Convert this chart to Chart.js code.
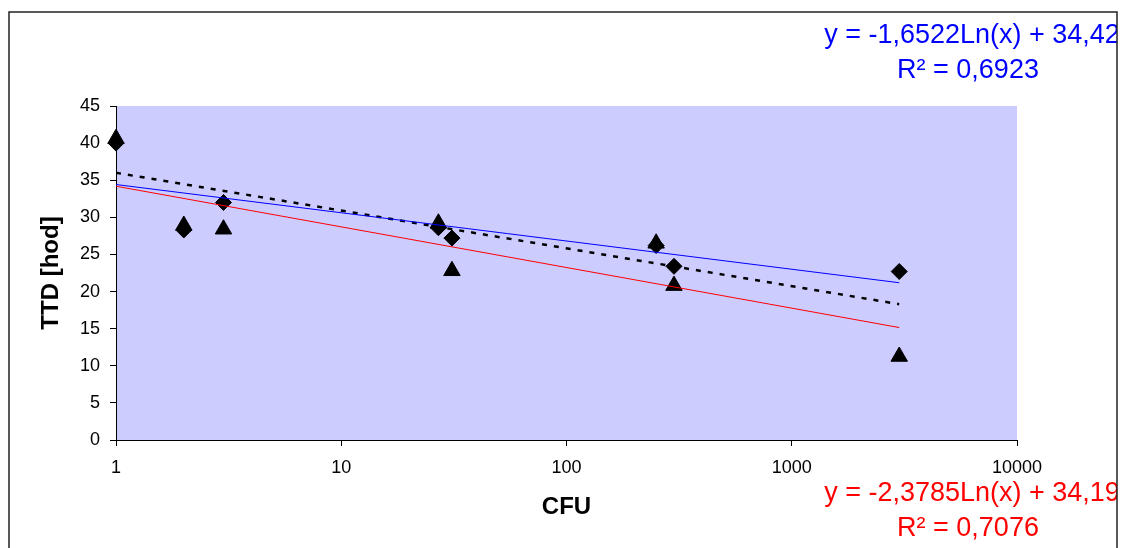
<!DOCTYPE html>
<html>
<head>
<meta charset="utf-8">
<title>TTD vs CFU</title>
<script src="https://cdn.jsdelivr.net/npm/chart.js@4.4.1/dist/chart.umd.min.js"></script>
<style>
  html, body { margin: 0; padding: 0; background: #fff; }
  #wrap { width: 1125px; height: 548px; }
</style>
</head>
<body>
<div id="wrap"><canvas id="myChart" width="1125" height="548"></canvas></div>
<script>
// values
const cfu = [1, 2, 3, 27, 31, 250, 300, 3000];
const ttdDiamond = [40.0, 28.3, 32.0, 28.6, 27.2, 26.2, 23.4, 22.7];
const ttdTriangle = [40.6, 28.9, 28.4, 29.2, 22.8, 26.5, 20.8, 11.25];

// trend lines: straight on a log axis, so the two ends are enough
const trendX = [1, 3000];
const trendBlue = [34.42, 21.19];
const trendRed = [34.19, 15.15];
const trendDashed = [36.0, 18.3];

const xTicks = [1, 10, 100, 1000, 10000];
const eqBlue = ["y = -1,6522Ln(x) + 34,42", "R² = 0,6923"];
const eqRed = ["y = -2,3785Ln(x) + 34,19", "R² = 0,7076"];

const FONT = "'Liberation Sans', Arial, sans-serif";

const pts = (xs, ys) => xs.map((x, i) => ({ x: x, y: ys[i] }));

const frame = {
  id: "frame",
  beforeDraw(chart) {
    const { ctx, chartArea: a } = chart;
    ctx.save();
    ctx.fillStyle = "#fff";
    ctx.fillRect(0, 0, chart.width, chart.height);
    ctx.fillStyle = "#ccccff";
    ctx.fillRect(a.left, a.top, a.right - a.left, a.bottom - a.top);
    ctx.restore();
  },
  afterDraw(chart) {
    const ctx = chart.ctx;
    ctx.save();
    ctx.beginPath();
    ctx.rect(0, 0, 1117, chart.height);
    ctx.clip();
    ctx.font = "27px " + FONT;
    ctx.textAlign = "center";
    ctx.textBaseline = "middle";
    ctx.fillStyle = "#0000ff";
    ctx.fillText(eqBlue[0], 972, 36);
    ctx.fillText(eqBlue[1], 968, 71);
    ctx.fillStyle = "#ff0000";
    ctx.fillText(eqRed[0], 972, 494);
    ctx.fillText(eqRed[1], 968, 529);
    ctx.restore();
    ctx.save();
    ctx.strokeStyle = "#222";
    ctx.lineWidth = 1.5;
    ctx.strokeRect(9, 12, 1108, 600);
    ctx.restore();
  }
};

new Chart(document.getElementById("myChart").getContext("2d"), {
  type: "scatter",
  data: {
    datasets: [
      {
        label: "trend red",
        data: pts(trendX, trendRed),
        showLine: true,
        borderColor: "#ff0000",
        borderWidth: 1,
        pointRadius: 0,
        order: 1
      },
      {
        label: "trend blue",
        data: pts(trendX, trendBlue),
        showLine: true,
        borderColor: "#0000ff",
        borderWidth: 1,
        pointRadius: 0,
        order: 1
      },
      {
        label: "trend dashed",
        data: pts(trendX, trendDashed),
        showLine: true,
        borderColor: "#000",
        borderWidth: 2.5,
        borderDash: [5, 7],
        pointRadius: 0,
        order: 1
      },
      {
        label: "diamonds",
        data: pts(cfu, ttdDiamond),
        pointStyle: "rectRot",
        pointRadius: 8,
        backgroundColor: "#000",
        borderColor: "#000",
        borderWidth: 1,
        clip: false,
        order: 2
      },
      {
        label: "triangles",
        data: pts(cfu, ttdTriangle),
        pointStyle: "triangle",
        pointRadius: 9.5,
        backgroundColor: "#000",
        borderColor: "#000",
        borderWidth: 1,
        clip: false,
        order: 2
      }
    ]
  },
  options: {
    responsive: false,
    animation: false,
    layout: { padding: { left: 0, right: 108, top: 106, bottom: 0 } },
    plugins: {
      legend: { display: false },
      tooltip: { enabled: false }
    },
    scales: {
      x: {
        type: "logarithmic",
        min: 1,
        max: 10000,
        afterBuildTicks: (s) => { s.ticks = xTicks.map(v => ({ value: v })); },
        afterFit: (s) => { s.height = 108; },
        ticks: {
          color: "#000",
          font: { family: FONT, size: 18 },
          padding: 11,
          maxRotation: 0,
          autoSkip: false,
          callback: (v) => String(v)
        },
        grid: { drawOnChartArea: false, drawTicks: true, tickLength: 6, color: "#000" },
        border: { color: "#000", width: 1 },
        title: {
          display: true,
          text: "CFU",
          color: "#000",
          font: { family: FONT, size: 24, weight: "bold" },
          padding: { top: 0, bottom: 26 }
        }
      },
      y: {
        min: 0,
        max: 45,
        afterFit: (s) => { s.width = 116; },
        ticks: {
          stepSize: 5,
          color: "#000",
          font: { family: FONT, size: 18 },
          padding: 10
        },
        grid: { drawOnChartArea: false, drawTicks: true, tickLength: 6, color: "#000" },
        border: { color: "#000", width: 1 },
        title: {
          display: true,
          text: "TTD [hod]",
          color: "#000",
          font: { family: FONT, size: 24, weight: "bold" },
          padding: { top: 37, bottom: 0 }
        }
      }
    }
  },
  plugins: [frame]
});
</script>
</body>
</html>
